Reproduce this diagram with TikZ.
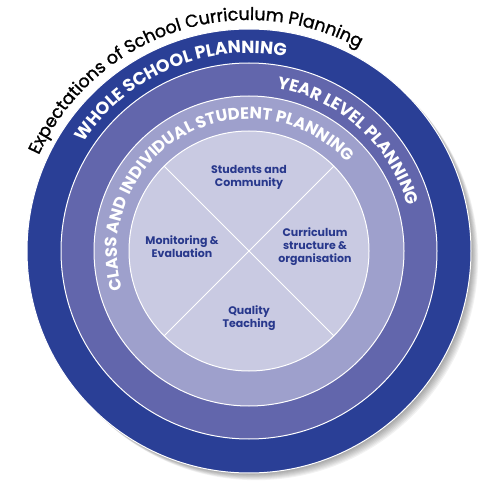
\documentclass[tikz,border=0pt]{standalone}
\usepackage{fontspec}
\usepackage{tikz}
\usetikzlibrary{positioning, calc, decorations.text}
\newfontfamily\popfont{Poppins}
\newfontfamily\popmedium[FakeBold=1.2]{Poppins}
\definecolor{ringone}{RGB}{42,63,150}
\definecolor{ringtwo}{RGB}{98,102,172}
\definecolor{ringthree}{RGB}{158,160,204}
\definecolor{ringfour}{RGB}{201,202,226}
\definecolor{labelblue}{RGB}{40,56,140}

\begin{document}
\begin{tikzpicture}[x=1pt, y=1pt]
		\tikzstyle{ring}=[circle, draw=white, line width=1pt, inner sep=0pt, text=black]
		\tikzstyle{divider}=[draw=white, line width=0.8pt]
		\tikzstyle{quarter}=[align=center, text=labelblue, font=\popfont\bfseries\fontsize{11}{13}\selectfont]
		
		\useasboundingbox (0,0) rectangle (485,480);
		\coordinate (C) at (249,229);
		
		%%	soft shadow of the outer ring
		\foreach \s in {1,...,8}
		\fill [black, opacity=0.05] ($(C)+(\s*0.9pt,-\s*0.9pt)$) circle (222pt);
		
		\node [ring, fill=ringone, minimum size=444pt] (R1) at (C) {};
		\node [ring, fill=ringtwo, minimum size=376pt] (R2) at (C) {};
		\node [ring, fill=ringthree, minimum size=310pt] (R3) at (C) {};
		\node [ring, fill=ringfour, minimum size=240pt] (R4) at (C) {};
		
		\draw [divider] (R4.135) -- (R4.-45);
		\draw [divider] (R4.45) -- (R4.-135);
		
		%%	texts along the rings
		\path [decorate, decoration={text along path, text align=center,
			text={|\popmedium\fontsize{17.5}{17.5}\selectfont|Expectations of School Curriculum Planning}}]
		([shift={(170:231pt)}]C) arc [start angle=170, end angle=47, radius=231pt];
		\path [decorate, decoration={text along path, text align=center,
			text={|\popfont\bfseries\fontsize{17.5}{17.5}\selectfont\color{white}|WHOLE SCHOOL PLANNING}}]
		([shift={(170:198pt)}]C) arc [start angle=170, end angle=56, radius=198pt];
		\path [decorate, decoration={text along path, text align=center,
			text={|\popfont\bfseries\fontsize{17}{17}\selectfont\color{white}|YEAR LEVEL PLANNING}}]
		([shift={(105:165pt)}]C) arc [start angle=105, end angle=-9, radius=165pt];
		\path [decorate, decoration={text along path, text align=center,
			text={|\popfont\bfseries\fontsize{16.5}{16.5}\selectfont\color{white}|CLASS AND INDIVIDUAL STUDENT PLANNING}}]
		([shift={(215:132pt)}]C) arc [start angle=215, end angle=24, radius=132pt];
		
		%%	labels of the quarters
		\node [quarter] (L1) at ($(C)+(0,74)$) {Students and\\Community};
		\node [quarter] (L2) at ($(C)+(-67,4)$) {Monitoring \&\\Evaluation};
		\node [quarter] (L3) at ($(C)+(66,4)$) {Curriculum\\structure \&\\organisation};
		\node [quarter] (L4) at ($(C)+(0,-67)$) {Quality\\Teaching};
		
		\end{tikzpicture}
\end{document}
